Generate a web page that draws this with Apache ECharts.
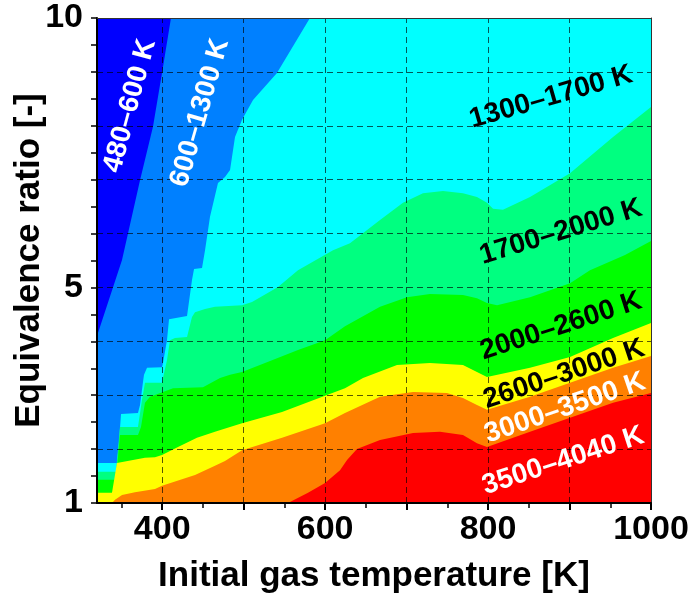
<!DOCTYPE html>
<html>
<head>
<meta charset="utf-8">
<script src="https://cdn.jsdelivr.net/npm/echarts@6/dist/echarts.min.js"></script>
<style>
  html, body { margin: 0; padding: 0; background: #ffffff; }
  #chart { width: 692px; height: 601px; }
</style>
</head>
<body>
<div id="chart"></div>
<script>
// Adiabatic flame temperature map: each isotherm is traced as
// initial gas temperature [K] -> equivalence ratio [-].

// Upper edge of the plotted domain
const topT   = [320, 1000];
const topPhi = [10, 10];

// 600 K isotherm
const iso600T   = [320, 350.7, 372.8, 388.7, 399.8, 410.8, 1000];
const iso600Phi = [4.10, 5.51, 6.99, 7.98, 8.98, 10, 10];

// 1300 K isotherm
const iso1300T   = [320, 344.5, 347.0, 349.5, 370.3, 372.8, 376.5, 377.7, 381.4, 399.8, 401.0, 405.9, 408.4, 430.5,
                    436.6, 439.1, 448.9, 452.6, 458.7, 468.5, 477.1, 483.3, 489.4, 498.0, 511.5, 540.9, 581.4, 1000];
const iso1300Phi = [1.74, 1.74, 2.13, 2.65, 2.67, 2.82, 3.25, 3.38, 3.51, 3.52, 3.60, 4.02, 4.41, 4.47,
                    5.14, 5.34, 5.36, 5.69, 6.31, 6.94, 7.05, 7.18, 7.79, 8.11, 8.48, 8.98, 10, 10];

// 1700 K isotherm
const iso1700T   = [320, 343.3, 348.2, 370.3, 375.2, 378.9, 399.8, 401.0, 405.9, 409.6, 415.7, 430.5, 436.6, 440.3,
                    452.6, 464.8, 498.0, 510.3, 542.2, 566.7, 609.7, 630.5, 667.4, 695.6, 720.1, 744.7, 769.2, 786.4,
                    798.7, 806.1, 818.3, 851.5, 900.6, 953.4, 1000];
const iso1700Phi = [1.58, 1.58, 2.41, 2.41, 2.91, 3.23, 3.23, 3.32, 3.65, 4.02, 4.06, 4.08, 4.45, 4.54,
                    4.60, 4.64, 4.67, 4.73, 5.01, 5.32, 5.69, 5.82, 6.25, 6.57, 6.75, 6.79, 6.75, 6.68,
                    6.57, 6.46, 6.44, 6.68, 7.12, 7.79, 8.35];

// 2000 K isotherm
const iso2000T   = [320, 343.3, 348.2, 370.3, 374.0, 378.9, 385.1, 401.0, 413.3, 450.1, 471.0, 483.3, 498.0, 526.2,
                    566.7, 599.9, 624.4, 667.4, 700.5, 728.7, 769.2, 786.4, 798.7, 811.0, 851.5, 900.6, 925.1, 968.1, 1000];
const iso2000Phi = [1.43, 1.43, 2.26, 2.26, 2.41, 2.86, 2.97, 3.06, 3.13, 3.15, 3.32, 3.38, 3.43, 3.60,
                    3.84, 4.02, 4.28, 4.64, 4.82, 4.88, 4.86, 4.80, 4.71, 4.67, 4.82, 5.08, 5.32, 5.60, 5.86];

// 2600 K isotherm
const iso2600T   = [320, 338.4, 344.5, 378.9, 391.2, 399.8, 419.4, 442.7, 464.8, 483.3, 498.0, 547.1,
                    599.9, 624.4, 646.5, 688.2, 728.7, 769.2, 786.4, 798.7, 851.5, 900.6, 953.4, 1000];
const iso2600Phi = [1.19, 1.19, 1.74, 1.84, 1.85, 1.89, 2.04, 2.21, 2.32, 2.41, 2.48, 2.69,
                    2.99, 3.13, 3.32, 3.56, 3.60, 3.56, 3.43, 3.34, 3.51, 3.71, 4.06, 4.34];

// 3000 K isotherm
const iso3000T   = [320, 338.4, 342.1, 350.7, 366.6, 391.2, 399.8, 440.3, 464.8, 477.1, 498.0, 547.1,
                    599.9, 624.4, 667.4, 707.9, 749.6, 769.2, 786.4, 798.7, 851.5, 900.6, 953.4, 1000];
const iso3000Phi = [1.00, 1.00, 1.06, 1.15, 1.20, 1.26, 1.32, 1.52, 1.69, 1.78, 1.98, 2.21,
                    2.48, 2.67, 2.97, 3.06, 3.04, 2.95, 2.82, 2.73, 2.97, 3.23, 3.51, 3.73];

// 3500 K isotherm
const iso3500T   = [320, 554.4, 579.0, 599.9, 618.3, 626.9, 639.1, 667.4, 707.9, 741.0, 769.2, 786.4,
                    798.7, 851.5, 900.6, 953.4, 1000];
const iso3500Phi = [1.00, 1.00, 1.19, 1.37, 1.61, 1.80, 2.00, 2.17, 2.30, 2.32, 2.26, 2.11,
                    2.04, 2.32, 2.58, 2.86, 3.04];

// Temperature bands, coolest (rich, top-left) to hottest
const bandNames  = ['480–600 K', '600–1300 K', '1300–1700 K', '1700–2000 K',
                    '2000–2600 K', '2600–3000 K', '3000–3500 K', '3500–4040 K'];
const bandColors = ['#0000ff', '#0080ff', '#00ffff', '#00ff80',
                    '#00ff00', '#ffff00', '#ff8000', '#ff0000'];
// Upper edge of each band (every band is painted down to the axis floor, hotter bands on top)
const bandUpperT   = [topT, iso600T, iso1300T, iso1700T, iso2000T, iso2600T, iso3000T, iso3500T];
const bandUpperPhi = [topPhi, iso600Phi, iso1300Phi, iso1700Phi, iso2000Phi, iso2600Phi, iso3000Phi, iso3500Phi];

// Axis ticks and grid
const xMajorTicks = [400, 500, 600, 700, 800, 900, 1000];
const xMinorTicks = [350, 450, 550, 650, 750, 850, 950];
const xTickLabels = [400, 600, 800, 1000];
const xGridValues = [400, 500, 600, 700, 800, 900];
const yTicks      = [1, 1.5, 2, 2.5, 3, 3.5, 4, 4.5, 5, 5.5, 6, 6.5, 7, 7.5, 8, 8.5, 9, 9.5, 10];
const yTickLabels = [1, 5, 10];
const yGridValues = [2, 3, 4, 5, 6, 7, 8, 9];

// In-plot band captions: anchor (T, phi), rotation and text colour
const captionAnchorT   = [360.5, 446.4, 877.3, 889.5, 889.5, 893.2, 894.4, 892.0];
const captionAnchorPhi = [8.37, 8.24, 8.53, 6.03, 4.28, 3.39, 2.76, 1.78];
const captionAngle     = [75, 74, 16, 17, 18, 18.5, 19, 18];
const captionColor     = ['#ffffff', '#ffffff', '#000000', '#000000', '#000000', '#000000', '#ffffff', '#ffffff'];

const FONT = "'Liberation Sans', Arial, Helvetica, sans-serif";
const zip = (xs, ys) => xs.map((x, i) => [x, ys[i]]);

const fillSeries = bandNames.map((name, i) => ({
  type: 'line',
  name: name,
  xAxisIndex: 0,
  yAxisIndex: 0,
  data: zip(bandUpperT[i], bandUpperPhi[i]),
  symbol: 'none',
  smooth: false,
  silent: true,
  lineStyle: { width: 0 },
  areaStyle: { color: bandColors[i], opacity: 1, origin: 'start' },
  z: 2
}));

// Dashed grid drawn above the filled bands
fillSeries[fillSeries.length - 1].markLine = {
  symbol: 'none',
  silent: true,
  animation: false,
  label: { show: false },
  lineStyle: { type: [6, 4], color: 'rgba(0,0,0,0.65)', width: 1 },
  data: xGridValues.map(v => ({ xAxis: v })).concat(yGridValues.map(v => ({ yAxis: v })))
};

const captionSeries = {
  type: 'scatter',
  xAxisIndex: 0,
  yAxisIndex: 0,
  symbolSize: 0,
  silent: true,
  z: 10,
  data: bandNames.map((name, i) => ({
    value: [captionAnchorT[i], captionAnchorPhi[i]],
    label: {
      show: true,
      position: 'inside',
      formatter: name,
      rotate: captionAngle[i],
      color: captionColor[i],
      opacity: 1,
      textBorderWidth: 0,
      textBorderColor: 'transparent',
      textShadowBlur: 0,
      fontFamily: FONT,
      fontWeight: 'bold',
      fontSize: 28
    }
  }))
};

const tickLabelStyle = { color: '#000', fontFamily: FONT, fontWeight: 'bold', fontSize: 34 };
const titleStyle = { color: '#000', fontFamily: FONT, fontWeight: 'bold', fontSize: 35 };

const chart = echarts.init(document.getElementById('chart'), null, { renderer: 'canvas' });
chart.setOption({
  animation: false,
  backgroundColor: '#ffffff',
  grid: { left: 97, right: 41, top: 18, bottom: 98, containLabel: false, outerBoundsMode: 'none' },
  xAxis: [
    {
      type: 'value', position: 'bottom', min: 320, max: 1000, z: 10,
      axisLine: { show: true, onZero: false, lineStyle: { color: '#000', width: 2 } },
      axisTick: { show: true, customValues: xMajorTicks, length: 7, lineStyle: { color: '#000', width: 2 } },
      axisLabel: Object.assign({ customValues: xTickLabels, margin: 10, formatter: v => String(v) }, tickLabelStyle),
      splitLine: { show: false },
      name: 'Initial gas temperature [K]',
      nameLocation: 'middle',
      nameGap: 56,
      nameMoveOverlap: false,
      nameTextStyle: titleStyle
    },
    {
      type: 'value', position: 'bottom', min: 320, max: 1000, z: 10,
      axisLine: { show: false },
      axisTick: { show: true, customValues: xMinorTicks, length: 5, lineStyle: { color: '#000', width: 1.5 } },
      axisLabel: { show: false },
      splitLine: { show: false }
    },
    {
      type: 'value', position: 'top', min: 320, max: 1000, z: 10,
      axisLine: { show: true, onZero: false, lineStyle: { color: '#333', width: 1 } },
      axisTick: { show: false },
      axisLabel: { show: false },
      splitLine: { show: false }
    }
  ],
  yAxis: [
    {
      type: 'value', position: 'left', min: 1, max: 10, z: 10,
      axisLine: { show: true, onZero: false, lineStyle: { color: '#000', width: 2 } },
      axisTick: { show: true, customValues: yTicks, length: 6, lineStyle: { color: '#000', width: 1.5 } },
      axisLabel: Object.assign({ customValues: yTickLabels, margin: 14, formatter: v => String(v) }, tickLabelStyle),
      splitLine: { show: false },
      name: 'Equivalence ratio [-]',
      nameLocation: 'middle',
      nameGap: 50,
      nameMoveOverlap: false,
      nameTextStyle: titleStyle
    },
    {
      type: 'value', position: 'right', min: 1, max: 10, z: 10,
      axisLine: { show: true, onZero: false, lineStyle: { color: '#333', width: 1 } },
      axisTick: { show: false },
      axisLabel: { show: false },
      splitLine: { show: false }
    }
  ],
  series: fillSeries.concat([captionSeries])
});
</script>
</body>
</html>
